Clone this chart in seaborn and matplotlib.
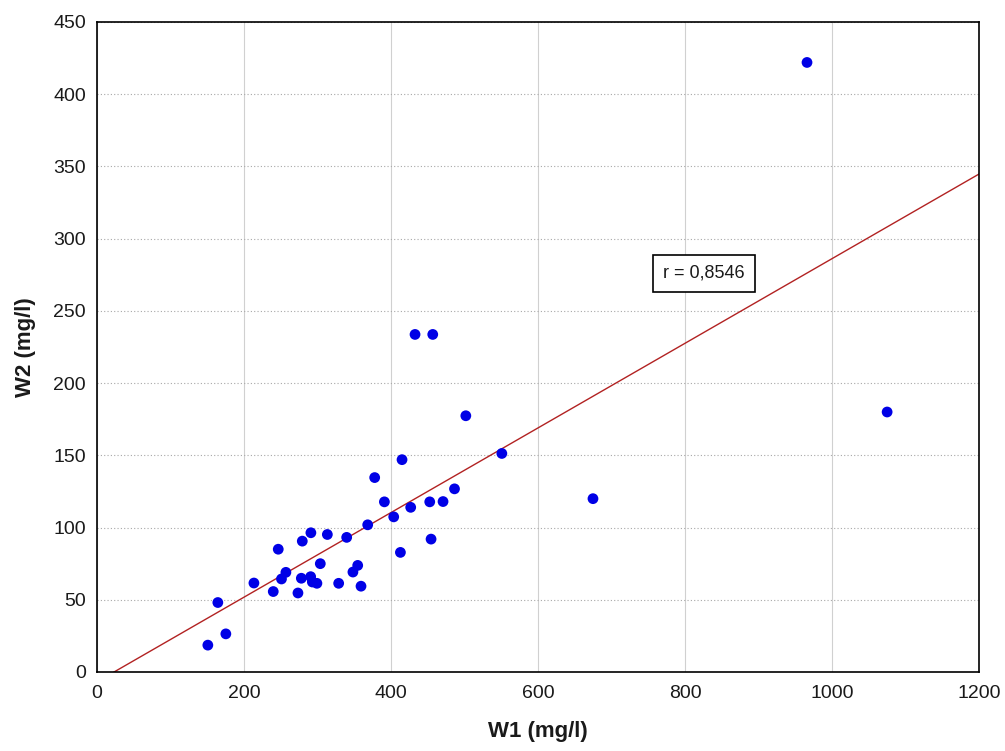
import matplotlib
matplotlib.use("Agg")
import matplotlib.pyplot as plt
import seaborn as sns
import pandas as pd
from matplotlib.ticker import MultipleLocator

w1 = [150.8, 164.4, 175.3, 213.5, 239.8, 246.6, 251.0, 257.0, 273.4, 278.0,
      279.3, 290.7, 291.0, 293.0, 299.2, 303.8, 313.4, 328.8, 339.7, 348.2,
      354.7, 359.2, 368.3, 377.8, 391.0, 403.7, 412.8, 415.0, 426.8, 432.7,
      452.7, 454.5, 456.8, 470.8, 486.4, 501.8, 550.8, 674.8, 966.0, 1075.0]
w2 = [18.6, 48.1, 26.4, 61.6, 55.7, 85.0, 64.4, 69.0, 54.7, 64.9,
      90.6, 66.0, 96.4, 62.3, 61.4, 75.0, 95.2, 61.4, 93.2, 69.2,
      73.8, 59.4, 101.9, 134.6, 117.8, 107.4, 82.8, 147.0, 114.0, 233.7,
      117.8, 92.0, 233.7, 118.0, 126.8, 177.4, 151.3, 120.0, 422.0, 180.0]
r_label = "r = 0,8546"

df = pd.DataFrame({"W1 (mg/l)": w1, "W2 (mg/l)": w2})

sns.set_style("white")
plt.rcParams["font.family"] = ["Liberation Sans", "DejaVu Sans"]
plt.rcParams["text.color"] = "#1a1a1a"

fig = plt.figure(figsize=(10.05, 7.51), dpi=100)
ax = fig.add_axes([97 / 1005, 1 - 672 / 751, (979 - 97) / 1005, (672 - 22) / 751])

ax.set_xlim(0, 1200)
ax.set_ylim(0, 450)

sns.regplot(data=df, x="W1 (mg/l)", y="W2 (mg/l)", ax=ax, ci=None, truncate=False,
            scatter_kws=dict(s=60, color="#0000e6", edgecolor="none", zorder=3, alpha=1),
            line_kws=dict(color="#b22222", lw=1.0, zorder=2))

ax.set_xlim(0, 1200)
ax.set_ylim(0, 450)
ax.xaxis.set_major_locator(MultipleLocator(200))
ax.xaxis.set_minor_locator(MultipleLocator(100))
ax.yaxis.set_major_locator(MultipleLocator(50))
ax.yaxis.set_minor_locator(MultipleLocator(10))

ax.grid(False)
ax.xaxis.grid(True, which="major", color="#d0d0d0", linestyle="-", linewidth=0.8)
ax.yaxis.grid(True, which="major", color="#a8a8a8", linestyle=(0, (1, 2)), linewidth=0.8)
ax.set_axisbelow(True)

ax.tick_params(which="both", direction="in", colors="black", labelcolor="#1a1a1a",
               top=False, right=False)
ax.tick_params(axis="y", labelsize=14, pad=8)
ax.tick_params(axis="x", labelsize=14, pad=9)
ax.tick_params(which="major", length=5, width=1)
ax.tick_params(which="minor", length=3, width=0.8)
for s in ax.spines.values():
    s.set_color("black")
    s.set_linewidth(1.2)

ax.set_xlabel("W1 (mg/l)", fontsize=16, fontweight="bold", labelpad=14, color="#1a1a1a")
ax.set_ylabel("W2 (mg/l)", fontsize=16, fontweight="bold", labelpad=12, color="#1a1a1a")

ax.text(826, 276, r_label, fontsize=13, ha="center", va="center",
        bbox=dict(boxstyle="square,pad=0.55", facecolor="white", edgecolor="black", linewidth=1.2),
        zorder=5)

fig.savefig("out.png", dpi=100, facecolor="white")
